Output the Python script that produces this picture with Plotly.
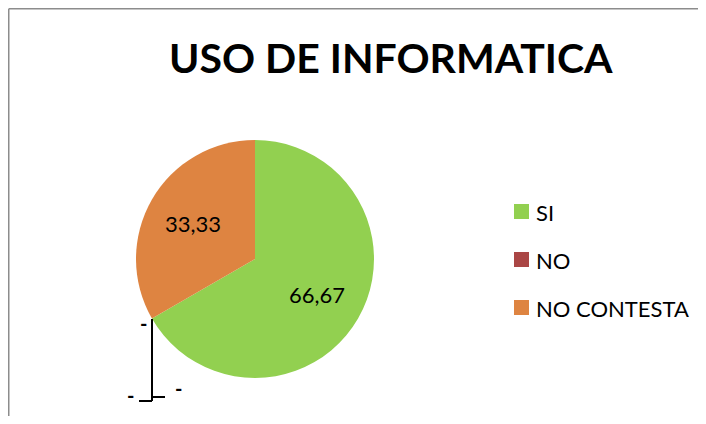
import math
import plotly.graph_objects as go

categories = ["SI", "NO", "NO CONTESTA"]
values = [66.67, 0.0, 33.33]
colors = ["#92D050", "#AA4645", "#DE8441"]
title_text = "USO DE INFORMATICA"

OX, OY = 8, 8  # page body margin offset
W, H = 706 - OX, 424 - 2 * OY

def px(x):
    return (x - OX) / W

def py(y):
    return 1 - (y - OY) / H

FONT = "Lato, Open Sans, sans-serif"

# pie geometry (page pixels)
CX, CY, R = 255, 259, 119

fig = go.Figure()
fig.add_trace(go.Pie(
    labels=categories,
    values=values,
    marker=dict(colors=colors, line=dict(width=0)),
    sort=False,
    direction="clockwise",
    rotation=0,
    textinfo="none",
    domain=dict(x=[px(CX - R), px(CX + R)], y=[py(CY + R), py(CY - R)]),
    showlegend=False,
    hoverinfo="label+value",
))

shapes = []
annotations = []

# data labels for non-zero slices, at the slice mid-angle
total = sum(values)
cum = 0.0
for v in values:
    mid = (cum + v / 2) / total * 2 * math.pi
    cum += v
    if v <= 0:
        continue
    r = 0.6 * R
    lx = CX + r * math.sin(mid)
    ly = CY - r * math.cos(mid)
    annotations.append(dict(text=f"{v:.2f}".replace(".", ","), xref="paper", yref="paper",
                            x=px(lx), y=py(ly), xanchor="center", yanchor="middle",
                            showarrow=False,
                            font=dict(family=FONT, size=22, color="black")))

# chart border (top and left edges visible)
shapes.append(dict(type="line", xref="paper", yref="paper",
                   x0=px(8.75), x1=px(705), y0=py(8.75), y1=py(8.75),
                   line=dict(color="#8C8C8C", width=1.5)))
shapes.append(dict(type="line", xref="paper", yref="paper",
                   x0=px(8.75), x1=px(8.75), y0=py(8.75), y1=py(416),
                   line=dict(color="#8C8C8C", width=1.5)))

# manual legend
legend_y = [212, 260, 308]
for cat, col, yy in zip(categories, colors, legend_y):
    shapes.append(dict(type="rect", xref="paper", yref="paper",
                       x0=px(514), x1=px(529), y0=py(yy + 7), y1=py(yy - 8),
                       fillcolor=col, line=dict(width=0)))
    annotations.append(dict(text=cat, xref="paper", yref="paper",
                            x=px(534), y=py(yy), xanchor="left", yanchor="middle",
                            showarrow=False,
                            font=dict(family=FONT, size=22, color="black")))

# zero-value labels and leader lines
lw = dict(color="black", width=2)
shapes.append(dict(type="line", xref="paper", yref="paper",
                   x0=px(152), x1=px(152), y0=py(319), y1=py(401), line=lw))
shapes.append(dict(type="line", xref="paper", yref="paper",
                   x0=px(139), x1=px(152), y0=py(401), y1=py(401), line=lw))
shapes.append(dict(type="line", xref="paper", yref="paper",
                   x0=px(152), x1=px(165), y0=py(397), y1=py(397), line=lw))
for xx, yy in [(143, 323), (130, 395), (178, 388)]:
    annotations.append(dict(text="<b>-</b>", xref="paper", yref="paper",
                            x=px(xx), y=py(yy), xanchor="center", yanchor="middle",
                            showarrow=False,
                            font=dict(family=FONT, size=20, color="black")))

annotations.append(dict(text="<b>" + title_text + "</b>", xref="paper", yref="paper",
                        x=px(391), y=py(57), xanchor="center", yanchor="middle",
                        showarrow=False,
                        font=dict(family=FONT, size=41, color="black")))

fig.update_layout(
    width=W, height=H,
    margin=dict(l=0, r=0, t=0, b=0),
    paper_bgcolor="white",
    plot_bgcolor="white",
    shapes=shapes,
    annotations=annotations,
)

fig.write_html(
    "out.html",
    config={"displayModeBar": False},
    post_script="document.documentElement.style.overflow='hidden';document.body.style.overflow='hidden';",
)
